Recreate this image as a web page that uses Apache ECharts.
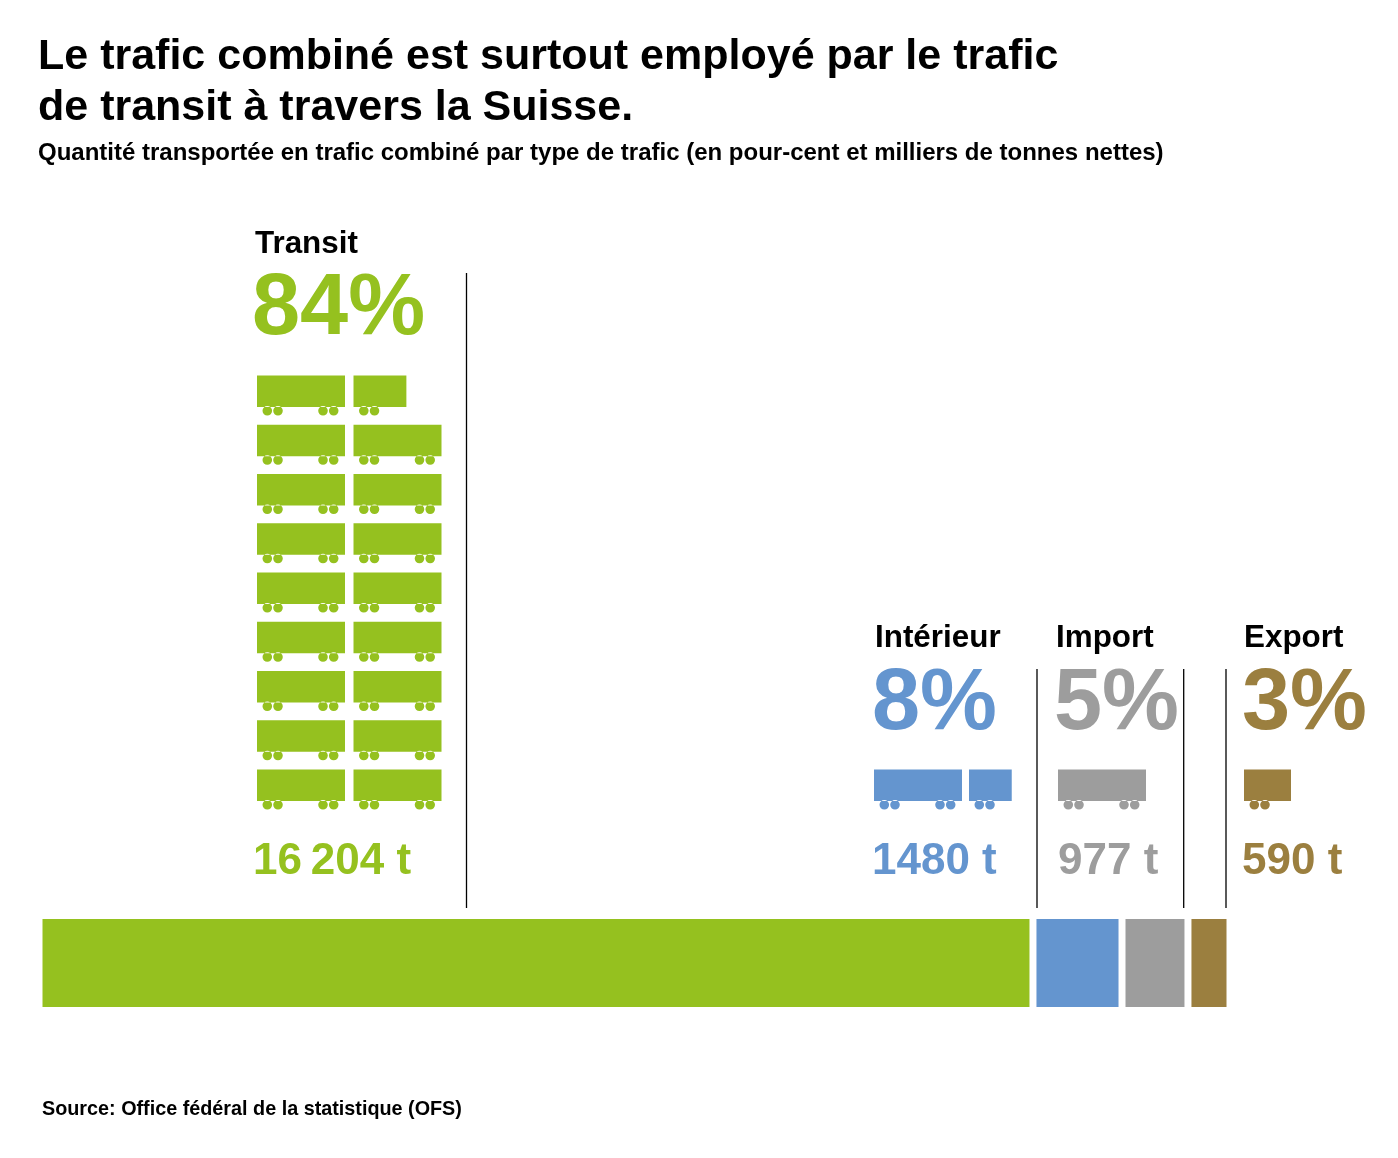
<!DOCTYPE html>
<html>
<head>
<meta charset="utf-8">
<style>html,body{margin:0;padding:0;background:#fff}#chart{width:1398px;height:1158px}</style>
<script src="https://cdn.jsdelivr.net/npm/echarts@6/dist/echarts.min.js"></script>
</head>
<body>
<div id="chart"></div>
<script>
const categories = ['Transit', 'Intérieur', 'Import', 'Export'];
const percents = ['84%', '8%', '5%', '3%'];
const tonnes = ['16\u2009204 t', '1480 t', '977 t', '590 t'];
// length of each block in the bottom bar, in % of the whole bar
const barShares = [83.36, 6.93, 4.98, 2.96];
const barGap = 0.59;
// wagon rows, bottom to top (1.91 = two full wagons)
const transitRows = [1.91, 1.91, 1.91, 1.91, 1.91, 1.91, 1.91, 1.91, 1.54];
const interieurRows = [1.42];
const importRows = [0.91];
const exportRows = [0.485];

const colors = ['#95c11f', '#6495cf', '#9d9d9d', '#9b7f3f'];
const font = '"Liberation Sans", Arial, sans-serif';
const wagon = 'path://M0 0H88V31.5H0Z' +
  'M5.5 35.2a4.8 4.8 0 1 0 9.6 0a4.8 4.8 0 1 0 -9.6 0Z' +
  'M16.2 35.2a4.8 4.8 0 1 0 9.6 0a4.8 4.8 0 1 0 -9.6 0Z' +
  'M61.2 35.2a4.8 4.8 0 1 0 9.6 0a4.8 4.8 0 1 0 -9.6 0Z' +
  'M71.9 35.2a4.8 4.8 0 1 0 9.6 0a4.8 4.8 0 1 0 -9.6 0Z';

const rowSets = [transitRows, interieurRows, importRows, exportRows];
const rowLeft = [257, 874, 1058, 1244];
const rowWidth = [184.5, 183, 88, 88];
const rowPitch = 49.25;
const rowBottom = 814.2;
const unitPx = 97;

let grids = [{left: 42.5, top: 919, width: 1184, height: 88}];
let xAxes = [{gridIndex: 0, type: 'value', min: 0, max: 100, show: false}];
let yAxes = [{gridIndex: 0, type: 'category', data: ['total'], show: false}];
let series = [];

// bottom bar: stacked blocks with blank gaps between them
barShares.forEach(function (share, i) {
  series.push({
    name: categories[i], type: 'bar', stack: 'total', barWidth: '100%',
    xAxisIndex: 0, yAxisIndex: 0, silent: true,
    itemStyle: {color: colors[i]}, data: [share]
  });
  if (i < barShares.length - 1) {
    series.push({
      type: 'bar', stack: 'total', xAxisIndex: 0, yAxisIndex: 0, silent: true,
      itemStyle: {color: 'transparent'}, data: [barGap]
    });
  }
});

// wagons
rowSets.forEach(function (rows, i) {
  let idx = i + 1;
  let axisMax = rowWidth[i] / unitPx;
  grids.push({left: rowLeft[i], top: rowBottom - rows.length * rowPitch, width: rowWidth[i], height: rows.length * rowPitch});
  xAxes.push({gridIndex: idx, type: 'value', min: 0, max: axisMax, show: false});
  yAxes.push({gridIndex: idx, type: 'category', data: rows.map(function (v, n) { return n; }), show: false});
  series.push({
    name: categories[i], type: 'pictorialBar', xAxisIndex: idx, yAxisIndex: idx, silent: true,
    symbol: wagon, symbolSize: [88, 40], symbolRepeat: 'fixed', symbolMargin: 4.5,
    symbolClip: true, symbolBoundingData: axisMax,
    itemStyle: {color: colors[i]}, data: rows
  });
});

function label(text, x, y, size, color) {
  return {type: 'text', x: x, y: y, silent: true, style: {
    text: text, fill: color, font: 'bold ' + size + 'px ' + font,
    textAlign: 'left', textVerticalAlign: 'middle', verticalAlign: 'middle'
  }};
}
function rule(x, y1, y2) {
  return {type: 'line', silent: true, shape: {x1: x, y1: y1, x2: x, y2: y2},
    style: {stroke: '#000', lineWidth: 1.3}};
}

const nameX = [255, 875, 1056, 1244];
const pctX = [252, 872, 1054, 1242];
const tonX = [253, 872, 1058, 1242];
const nameY = [244.5, 638.5, 638.5, 638.5];
const pctY = [310, 705.5, 705.5, 705.5];
const tonY = [862, 862, 862, 862];

let graphics = [
  label('Le trafic combiné est surtout employé par le trafic', 38, 57.5, 43, '#000'),
  label('de transit à travers la Suisse.', 38, 108.5, 43, '#000'),
  label('Quantité transportée en trafic combiné par type de trafic (en pour-cent et milliers de tonnes nettes)', 38, 153, 24, '#000'),
  label('Source: Office fédéral de la statistique (OFS)', 42, 1110, 19.8, '#000'),
  rule(466.5, 273, 908), rule(1037, 669, 908), rule(1183.7, 669, 908), rule(1226, 669, 908)
];
categories.forEach(function (name, i) {
  graphics.push(label(name, nameX[i], nameY[i], 31.4, '#000'));
  graphics.push(label(percents[i], pctX[i], pctY[i], 86.5, colors[i]));
  graphics.push(label(tonnes[i], tonX[i], tonY[i], 44, colors[i]));
});

let chart = echarts.init(document.getElementById('chart'), null, {renderer: 'canvas'});
chart.setOption({
  backgroundColor: '#fff',
  animation: false,
  grid: grids,
  xAxis: xAxes,
  yAxis: yAxes,
  series: series,
  graphic: graphics
});
</script>
</body>
</html>
